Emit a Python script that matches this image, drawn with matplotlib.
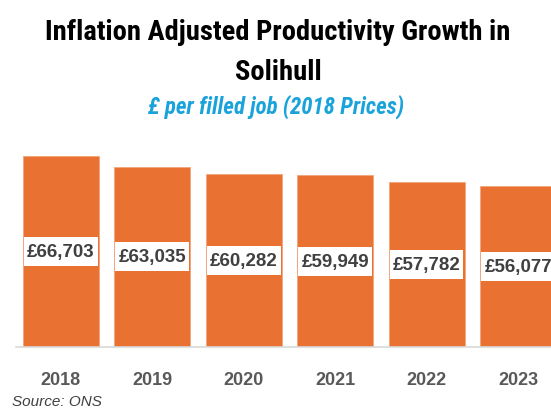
import matplotlib
matplotlib.use('Agg')
import matplotlib.pyplot as plt
from matplotlib.path import Path

years = ['2018', '2019', '2020', '2021', '2022', '2023']
values = [66703, 63035, 60282, 59949, 57782, 56077]
labels = ['£66,703', '£63,035', '£60,282', '£59,949', '£57,782', '£56,077']

orange = '#E97132'
grey_txt = '#595959'

def label_box(x0, y0, w, h, mutation_size):
    # white box: small side padding, taller top/bottom
    px, py = 3, 6
    x0, y0, x1, y1 = x0 - px, y0 - py, x0 + w + px, y0 + h + py
    return Path([(x0, y0), (x1, y0), (x1, y1), (x0, y1), (x0, y0)], closed=True)

fig = plt.figure(figsize=(5.51, 4.10), dpi=100)
ax = fig.add_axes([16/551, 62/410, 535/551, 198/410])

x = list(range(len(years)))
ax.bar(x, values, width=0.83, color=orange, edgecolor='#F2A579', linewidth=0.6, zorder=2)
ax.set_xlim(-0.49, 5.36)
ax.set_ylim(0, 69150)

for i, v in enumerate(values):
    ax.text(i, v / 2, labels[i], ha='center', va='center', fontsize=13.5,
            fontweight='bold', color='#404040', family='Liberation Sans',
            bbox=dict(boxstyle=label_box, fc='white', ec='none'), zorder=3)

ax.set_xticks(x)
ax.set_xticklabels(years, fontsize=13, fontweight='bold', color=grey_txt, family='Liberation Sans')
ax.tick_params(axis='x', length=0, pad=17)
ax.set_yticks([])
for s in ['top', 'right', 'left']:
    ax.spines[s].set_visible(False)
ax.spines['bottom'].set_color('#D9D9D9')
ax.spines['bottom'].set_linewidth(1.2)

title_font = ['Roboto Condensed', 'DejaVu Sans']
fig.text(278/551, 1 - 32/410, 'Inflation Adjusted Productivity Growth in', ha='center', va='center',
         fontsize=20.5, fontweight='bold', family=title_font, color='black')
fig.text(278/551, 1 - 73/410, 'Solihull', ha='center', va='center',
         fontsize=20.5, fontweight='bold', family=title_font, color='black')
fig.text(276/551, 1 - 107/410, '£ per filled job (2018 Prices)', ha='center', va='center',
         fontsize=16.5, fontweight='bold', style='italic', family=title_font, color='#1AA3DA')
fig.text(12/551, 1 - 402/410, 'Source: ONS', ha='left', va='center', fontsize=11,
         style='italic', family='Liberation Sans', color='#404040')

fig.savefig('out.png', dpi=100)
